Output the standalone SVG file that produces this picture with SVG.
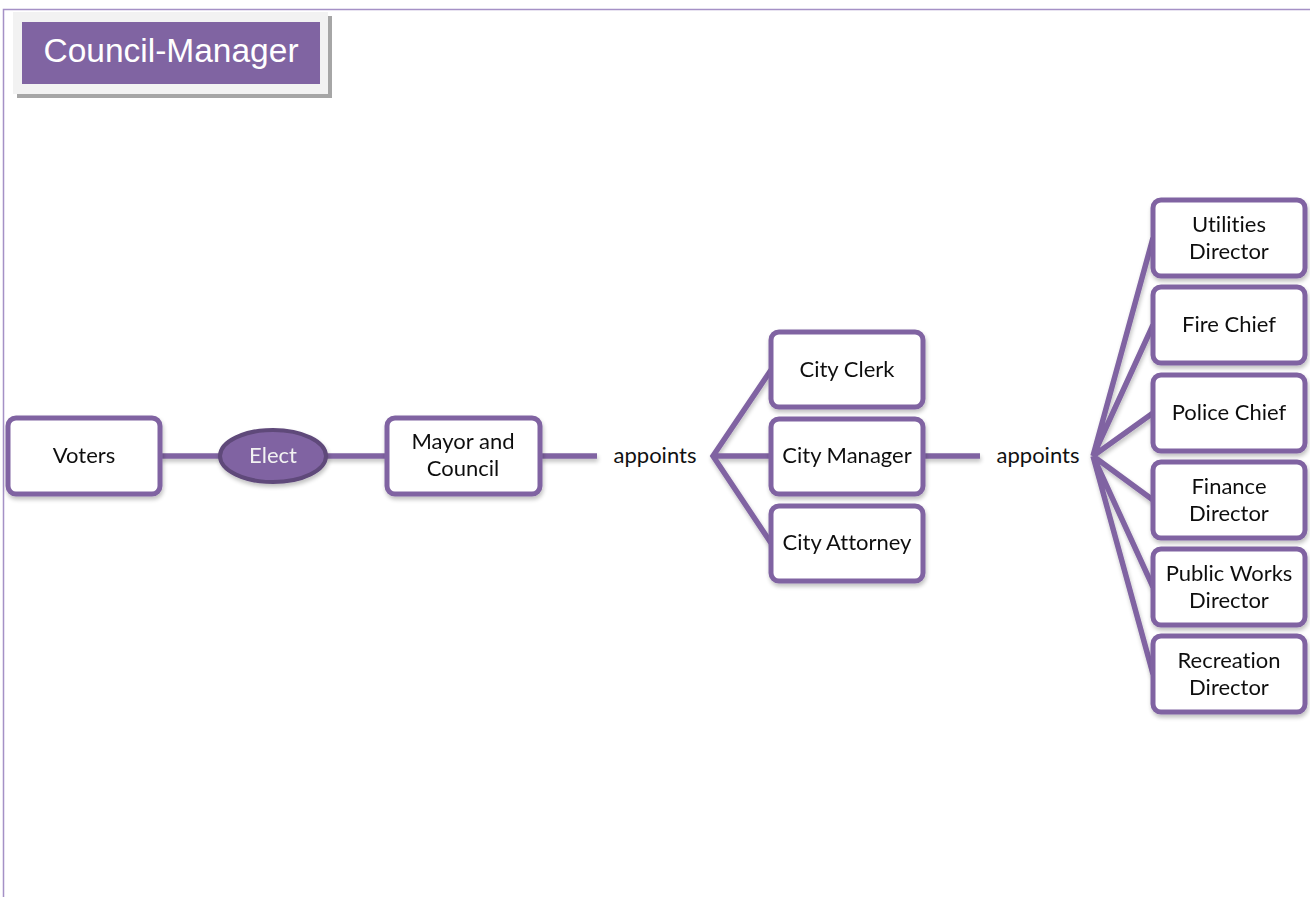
<svg xmlns="http://www.w3.org/2000/svg" width="1310" height="897" viewBox="0 0 1310 897">
  <defs>
    <style>
      .box { fill: #ffffff; stroke: #8064a2; stroke-width: 5; }
      .lbl { font-family: Lato, "Open Sans", "Liberation Sans", sans-serif; font-size: 22px; fill: #111111; text-anchor: middle; font-variant-ligatures: none; font-feature-settings: "liga" 0, "clig" 0; }
      .link { fill: none; stroke: #8064a2; stroke-width: 5.5; stroke-linecap: butt; }
    </style>
    <filter id="soft" x="-10%" y="-10%" width="120%" height="130%">
      <feGaussianBlur in="SourceAlpha" stdDeviation="2"/>
      <feOffset dx="1" dy="3" result="b"/>
      <feComponentTransfer><feFuncA type="linear" slope="0.25"/></feComponentTransfer>
      <feMerge><feMergeNode/><feMergeNode in="SourceGraphic"/></feMerge>
    </filter>
  </defs>

  <rect width="1310" height="897" fill="#ffffff"/>
  <!-- page frame -->
  <path d="M3.5 897 V9.5 H1310" fill="none" stroke="#a591c6" stroke-width="1.5"/>

  <!-- heading -->
  <g id="title">
    <rect x="17" y="16" width="315" height="82" fill="#a6a6a6"/>
    <rect x="13" y="12" width="315" height="82" fill="#f2f2f2"/>
    <rect x="22" y="22" width="298" height="62" fill="#8064a2"/>
    <text x="171" y="62" font-family="'Liberation Sans', Arial, sans-serif" font-size="33.5" fill="#ffffff" text-anchor="middle">Council-Manager</text>
  </g>

  <!-- connectors -->
  <g id="connectors" filter="url(#soft)">
    <line class="link" x1="160" y1="456" x2="220" y2="456"/>
    <line class="link" x1="326" y1="456" x2="387" y2="456"/>
    <line class="link" x1="540" y1="456" x2="597" y2="456"/>
    <path class="link" d="M771 370 L713 456 L771 543 M713 456 H771"/>
    <line class="link" x1="923" y1="456" x2="980" y2="456"/>
    <path class="link" d="M1153 238 L1093 456 L1153 325 M1093 456 L1153 413 M1093 456 L1153 500 M1093 456 L1153 587 M1093 456 L1153 674"/>
  </g>

  <g id="appoints1"><text class="lbl" x="655" y="463">appoints</text></g>
  <g id="appoints2"><text class="lbl" x="1038" y="463">appoints</text></g>

  <g id="voters" filter="url(#soft)">
    <rect class="box" x="8" y="418" width="152" height="76" rx="8"/>
    <text class="lbl" x="84" y="463">Voters</text>
  </g>

  <g id="elect" filter="url(#soft)">
    <ellipse cx="273" cy="456" rx="53" ry="26" fill="#8064a2" stroke="#5f497a" stroke-width="4"/>
    <text class="lbl" x="273" y="463" style="fill:#f2f2f2">Elect</text>
  </g>

  <g id="mayor-council" filter="url(#soft)">
    <rect class="box" x="387" y="418" width="153" height="76" rx="8"/>
    <text class="lbl" x="463" y="449">Mayor and</text>
    <text class="lbl" x="463" y="476">Council</text>
  </g>

  <g id="city-clerk" filter="url(#soft)">
    <rect class="box" x="771" y="332" width="152" height="75" rx="8"/>
    <text class="lbl" x="847" y="377">City Clerk</text>
  </g>
  <g id="city-manager" filter="url(#soft)">
    <rect class="box" x="771" y="419" width="152" height="75" rx="8"/>
    <text class="lbl" x="847" y="463">City Manager</text>
  </g>
  <g id="city-attorney" filter="url(#soft)">
    <rect class="box" x="771" y="506" width="152" height="75" rx="8"/>
    <text class="lbl" x="847" y="550">City Attorney</text>
  </g>

  <g id="utilities-director" filter="url(#soft)">
    <rect class="box" x="1153" y="200" width="152" height="76" rx="8"/>
    <text class="lbl" x="1229" y="232">Utilities</text>
    <text class="lbl" x="1229" y="259">Director</text>
  </g>
  <g id="fire-chief" filter="url(#soft)">
    <rect class="box" x="1153" y="287" width="152" height="76" rx="8"/>
    <text class="lbl" x="1229" y="332">Fire Chief</text>
  </g>
  <g id="police-chief" filter="url(#soft)">
    <rect class="box" x="1153" y="375" width="152" height="76" rx="8"/>
    <text class="lbl" x="1229" y="420">Police Chief</text>
  </g>
  <g id="finance-director" filter="url(#soft)">
    <rect class="box" x="1153" y="462" width="152" height="76" rx="8"/>
    <text class="lbl" x="1229" y="494">Finance</text>
    <text class="lbl" x="1229" y="521">Director</text>
  </g>
  <g id="public-works-director" filter="url(#soft)">
    <rect class="box" x="1153" y="549" width="152" height="76" rx="8"/>
    <text class="lbl" x="1229" y="581">Public Works</text>
    <text class="lbl" x="1229" y="608">Director</text>
  </g>
  <g id="recreation-director" filter="url(#soft)">
    <rect class="box" x="1153" y="636" width="152" height="76" rx="8"/>
    <text class="lbl" x="1229" y="668">Recreation</text>
    <text class="lbl" x="1229" y="695">Director</text>
  </g>
</svg>
